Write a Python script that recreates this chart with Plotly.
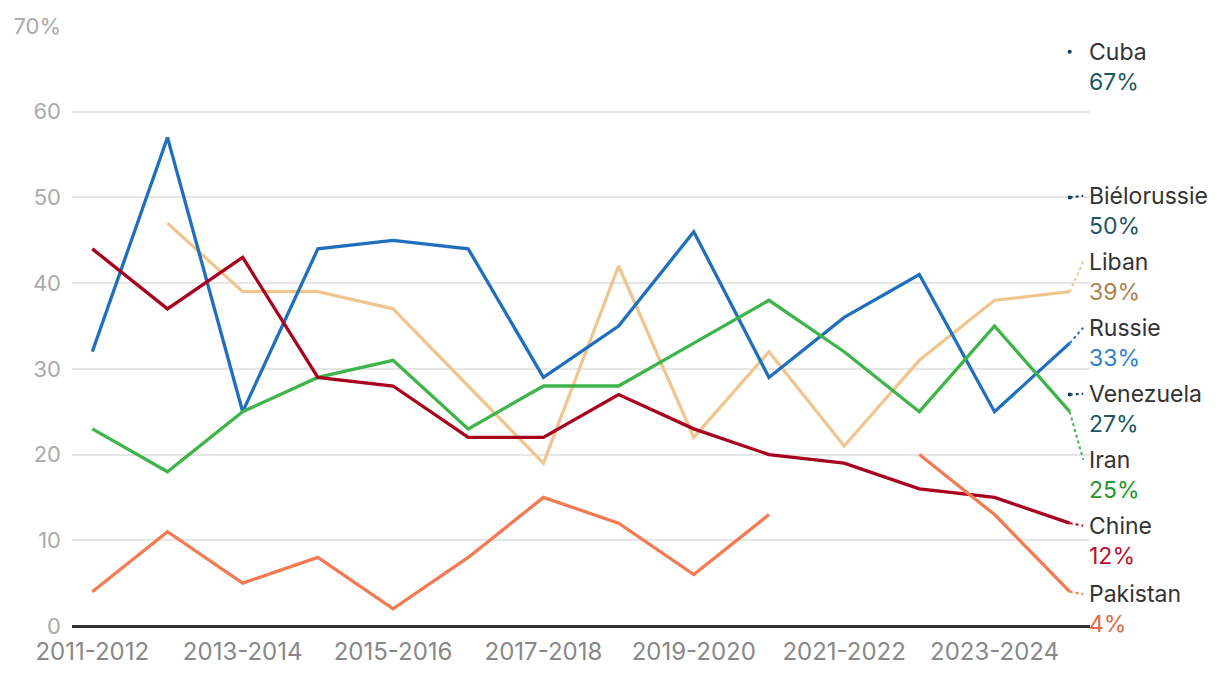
import plotly.graph_objects as go

seasons = ["2011-2012", "2012-2013", "2013-2014", "2014-2015", "2015-2016", "2016-2017",
           "2017-2018", "2018-2019", "2019-2020", "2020-2021", "2021-2022", "2022-2023",
           "2023-2024", "2024-2025"]

russie = [32, 57, 25, 44, 45, 44, 29, 35, 46, 29, 36, 41, 25, 33]
liban = [None, 47, 39, 39, 37, 28, 19, 42, 22, 32, 21, 31, 38, 39]
iran = [23, 18, 25, 29, 31, 23, 28, 28, 33, 38, 32, 25, 35, 25]
chine = [44, 37, 43, 29, 28, 22, 22, 27, 23, 20, 19, 16, 15, 12]
pakistan = [4, 11, 5, 8, 2, 8, 15, 12, 6, 13, None, 20, 13, 4]
cuba_last = 67
bielorussie_last = 50
venezuela_last = 27

y_tick_vals = [0, 10, 20, 30, 40, 50, 60, 70]
y_tick_text = ["0", "10", "20", "30", "40", "50", "60", "70%"]

FONT = "Inter, Roboto, sans-serif"
TEAL = "#0d3f50"

x = list(range(len(seasons)))
last = x[-1]

# name, values (full series or None), last value, line colour, value-text colour, label y (data units), leader
series = [
    ("Cuba", None, cuba_last, TEAL, "#1d5566", 67.0, False),
    ("Biélorussie", None, bielorussie_last, TEAL, "#1d5566", 50.2, True),
    ("Liban", liban, liban[-1], "#f0c58f", "#a9824f", 42.5, True),
    ("Russie", russie, russie[-1], "#1f6fbe", "#2f80d0", 34.8, True),
    ("Venezuela", None, venezuela_last, TEAL, "#1d5566", 27.1, True),
    ("Iran", iran, iran[-1], "#3db54a", "#23962f", 19.4, True),
    ("Chine", chine, chine[-1], "#a8001f", "#b8102f", 11.7, True),
    ("Pakistan", pakistan, pakistan[-1], "#f47a52", "#de6a45", 3.7, True),
]

fig = go.Figure()

for name, vals, lv, col, vcol, ly, leader in series:
    if vals is not None:
        fig.add_trace(go.Scatter(x=x, y=vals, mode="lines", name=name,
                                 line=dict(color=col, width=3.3), connectgaps=False,
                                 hoverinfo="skip"))
    else:
        fig.add_trace(go.Scatter(x=[last], y=[lv], mode="markers", name=name,
                                 marker=dict(color=col, size=4), hoverinfo="skip"))
    if leader:
        fig.add_trace(go.Scatter(x=[last, last + 0.18], y=[lv, ly], mode="lines",
                                 line=dict(color=col, width=2, dash="3px,3px"),
                                 hoverinfo="skip", showlegend=False))
    fig.add_annotation(x=1.0, xref="paper", y=ly, yref="y", xshift=-3, text=name,
                       showarrow=False, xanchor="left", yanchor="middle",
                       font=dict(family=FONT, size=23, color="#333333"))
    fig.add_annotation(x=1.0, xref="paper", y=ly, yref="y", xshift=-3, yshift=-30,
                       text=f"{lv}%", showarrow=False, xanchor="left", yanchor="middle",
                       font=dict(family=FONT, size=23, color=vcol))

fig.update_layout(
    width=1212, height=670,
    margin=dict(l=64, r=130, t=18, b=52, autoexpand=False),
    paper_bgcolor="white", plot_bgcolor="white",
    showlegend=False,
    font=dict(family=FONT),
    xaxis=dict(
        range=[-0.27, 13.27], automargin=False,
        tickvals=x[::2], ticktext=seasons[::2],
        showgrid=False, zeroline=False, showline=False,
        ticks="", ticklabelstandoff=9,
        tickfont=dict(family=FONT, size=24, color="#888888"),
    ),
    yaxis=dict(
        range=[0, 70], automargin=False,
        tickvals=y_tick_vals, ticktext=y_tick_text,
        showgrid=True, gridcolor="#e6e6e6", gridwidth=1.5,
        zeroline=True, zerolinecolor="#333333", zerolinewidth=2.5,
        showline=False, ticks="", ticklabelstandoff=10,
        tickfont=dict(family=FONT, size=22, color="#aaaaaa"),
    ),
)

fig.write_html("out.html")
